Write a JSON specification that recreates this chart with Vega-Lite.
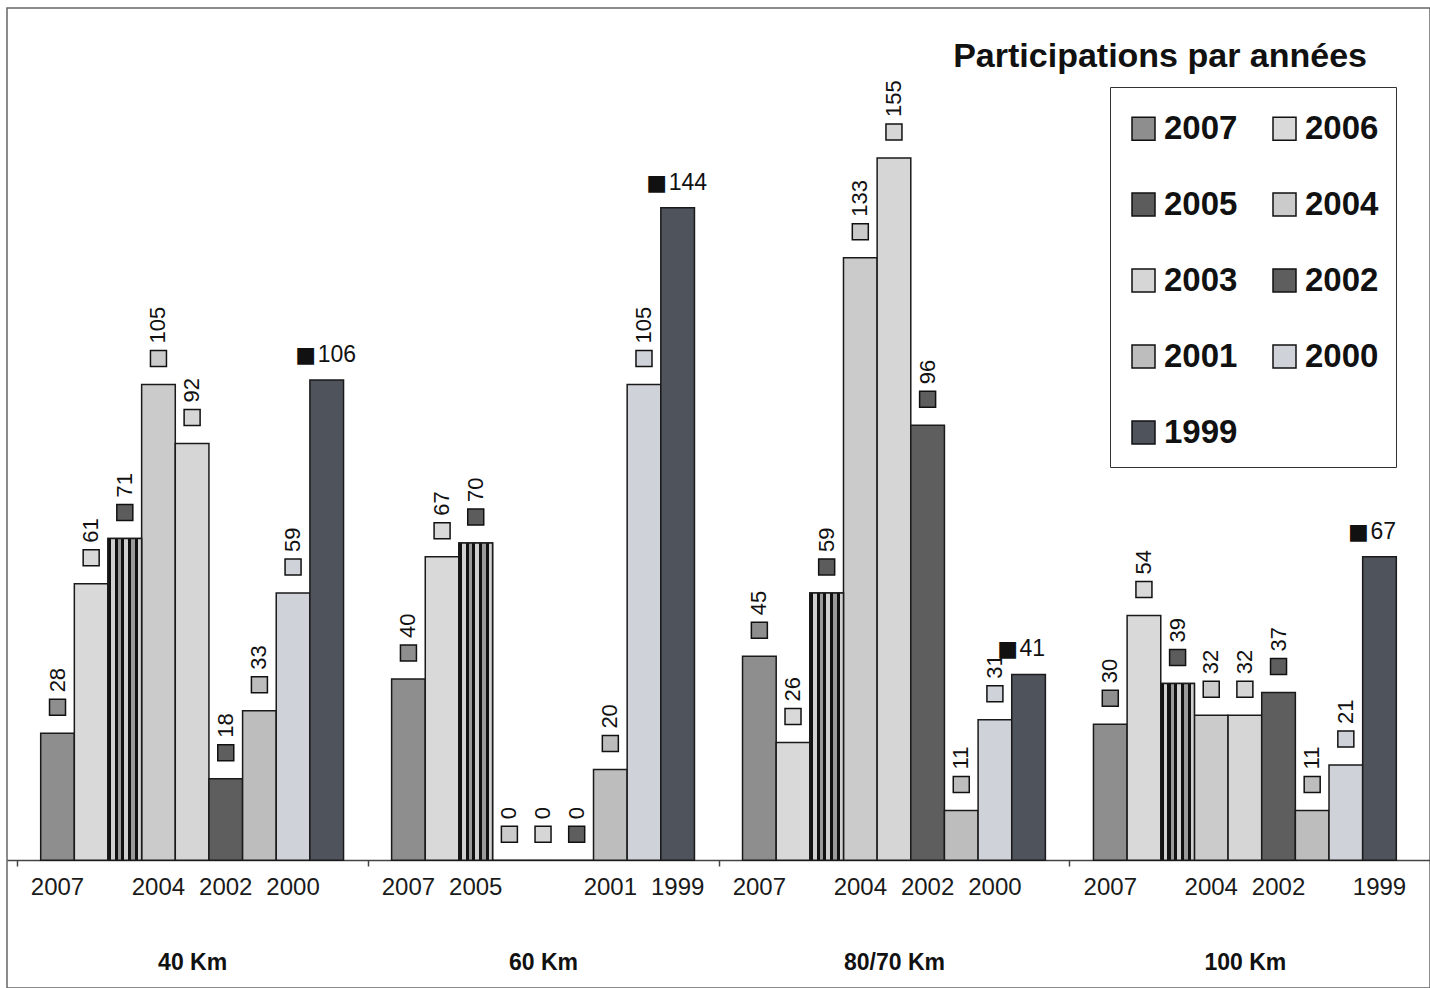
{
  "$schema": "https://vega.github.io/schema/vega-lite/v6.json",
  "autosize": "none",
  "width": 1423,
  "height": 980,
  "padding": {"left": 7, "top": 8, "right": 0, "bottom": 0},
  "background": "white",
  "title": {"text": "Participations par années", "anchor": "end", "frame": "group", "orient": "top", "offset": 0, "dx": -63, "dy": 93, "baseline": "alphabetic", "font": "Liberation Sans", "fontSize": 34, "fontWeight": "bold", "color": "#111"},
  "config": {"view": {"stroke": "#666", "strokeWidth": 1.5}, "font": "Liberation Sans"},
  "datasets": {
    "bars": [
      {"dist": "40 Km", "year": "2007", "value": 28},
      {"dist": "40 Km", "year": "2006", "value": 61},
      {"dist": "40 Km", "year": "2005", "value": 71},
      {"dist": "40 Km", "year": "2004", "value": 105},
      {"dist": "40 Km", "year": "2003", "value": 92},
      {"dist": "40 Km", "year": "2002", "value": 18},
      {"dist": "40 Km", "year": "2001", "value": 33},
      {"dist": "40 Km", "year": "2000", "value": 59},
      {"dist": "40 Km", "year": "1999", "value": 106},
      {"dist": "60 Km", "year": "2007", "value": 40},
      {"dist": "60 Km", "year": "2006", "value": 67},
      {"dist": "60 Km", "year": "2005", "value": 70},
      {"dist": "60 Km", "year": "2004", "value": 0},
      {"dist": "60 Km", "year": "2003", "value": 0},
      {"dist": "60 Km", "year": "2002", "value": 0},
      {"dist": "60 Km", "year": "2001", "value": 20},
      {"dist": "60 Km", "year": "2000", "value": 105},
      {"dist": "60 Km", "year": "1999", "value": 144},
      {"dist": "80/70 Km", "year": "2007", "value": 45},
      {"dist": "80/70 Km", "year": "2006", "value": 26},
      {"dist": "80/70 Km", "year": "2005", "value": 59},
      {"dist": "80/70 Km", "year": "2004", "value": 133},
      {"dist": "80/70 Km", "year": "2003", "value": 155},
      {"dist": "80/70 Km", "year": "2002", "value": 96},
      {"dist": "80/70 Km", "year": "2001", "value": 11},
      {"dist": "80/70 Km", "year": "2000", "value": 31},
      {"dist": "80/70 Km", "year": "1999", "value": 41},
      {"dist": "100 Km", "year": "2007", "value": 30},
      {"dist": "100 Km", "year": "2006", "value": 54},
      {"dist": "100 Km", "year": "2005", "value": 39},
      {"dist": "100 Km", "year": "2004", "value": 32},
      {"dist": "100 Km", "year": "2003", "value": 32},
      {"dist": "100 Km", "year": "2002", "value": 37},
      {"dist": "100 Km", "year": "2001", "value": 11},
      {"dist": "100 Km", "year": "2000", "value": 21},
      {"dist": "100 Km", "year": "1999", "value": 67}
    ],
    "yearLabels": [
      {"dist": "40 Km", "year": "2007"},
      {"dist": "40 Km", "year": "2004"},
      {"dist": "40 Km", "year": "2002"},
      {"dist": "40 Km", "year": "2000"},
      {"dist": "60 Km", "year": "2007"},
      {"dist": "60 Km", "year": "2005"},
      {"dist": "60 Km", "year": "2001"},
      {"dist": "60 Km", "year": "1999"},
      {"dist": "80/70 Km", "year": "2007"},
      {"dist": "80/70 Km", "year": "2004"},
      {"dist": "80/70 Km", "year": "2002"},
      {"dist": "80/70 Km", "year": "2000"},
      {"dist": "100 Km", "year": "2007"},
      {"dist": "100 Km", "year": "2004"},
      {"dist": "100 Km", "year": "2002"},
      {"dist": "100 Km", "year": "1999"}
    ]
  },
  "layer": [
    {
      "data": {"name": "bars"},
      "mark": {"type": "bar", "stroke": "#1a1a1a", "strokeWidth": 1.5},
      "encoding": {
        "x": {"field": "dist", "type": "nominal", "sort": ["40 Km", "60 Km", "80/70 Km", "100 Km"], "scale": {"domain": ["40 Km", "60 Km", "80/70 Km", "100 Km"], "paddingInner": 0.137, "paddingOuter": 0.096},
          "axis": {"orient": "bottom", "offset": -128, "title": null, "domainColor": "#444", "domainWidth": 1.5, "tickColor": "#444", "tickWidth": 1.5, "tickSize": 6, "bandPosition": 0, "tickOffset": -24, "labelOffset": 24, "labelPadding": 85, "labelFont": "Liberation Sans", "labelFontSize": 23, "labelFontWeight": "bold", "labelColor": "#111", "labelAngle": 0, "grid": false}},
        "xOffset": {"field": "year", "type": "nominal", "sort": ["2007", "2006", "2005", "2004", "2003", "2002", "2001", "2000", "1999"], "scale": {"domain": ["2007", "2006", "2005", "2004", "2003", "2002", "2001", "2000", "1999"], "paddingInner": 0, "paddingOuter": 0}},
        "y": {"field": "value", "type": "quantitative", "scale": {"domain": [-28.2, 188.1], "nice": false, "zero": false}, "axis": null},
        "y2": {"datum": 0},
        "color": {"field": "year", "type": "nominal", "sort": ["2007", "2006", "2005", "2004", "2003", "2002", "2001", "2000", "1999"],
          "scale": {"domain": ["2007", "2006", "2005", "2004", "2003", "2002", "2001", "2000", "1999"], "range": ["#8e8e8e", "#d9d9d9", "#5c5c5c", "#cbcbcb", "#d6d6d6", "#5e5e5e", "#bdbdbd", "#cfd2d8", "#4f535c"]},
          "legend": {"orient": "none", "legendX": 1103, "legendY": 79, "title": " ", "titleFontSize": 2, "titlePadding": 6, "columns": 2, "direction": "horizontal", "symbolType": "square", "symbolSize": 529, "symbolStrokeColor": "#111", "symbolStrokeWidth": 1.5, "labelFont": "Liberation Sans", "labelFontSize": 33, "labelFontWeight": "bold", "labelColor": "#111", "labelOffset": 4, "rowPadding": 42, "columnPadding": 30, "padding": 17, "strokeColor": "#333", "fillColor": "white"}}
      }
    },
    {
      "data": {"name": "bars"},
      "transform": [{"filter": "datum.year == '2005'"}],
      "mark": {"type": "bar", "stroke": "#1a1a1a", "strokeWidth": 1.5,
        "color": {"gradient": "linear", "x1": 0, "x2": 1, "y1": 0, "y2": 0, "stops": [
          {"offset": 0, "color": "#111"}, {"offset": 0.09, "color": "#111"}, {"offset": 0.09, "color": "#d0d0d0"}, {"offset": 0.2, "color": "#d0d0d0"},
          {"offset": 0.2, "color": "#111"}, {"offset": 0.29, "color": "#111"}, {"offset": 0.29, "color": "#9a9a9a"}, {"offset": 0.4, "color": "#9a9a9a"},
          {"offset": 0.4, "color": "#111"}, {"offset": 0.49, "color": "#111"}, {"offset": 0.49, "color": "#d0d0d0"}, {"offset": 0.6, "color": "#d0d0d0"},
          {"offset": 0.6, "color": "#111"}, {"offset": 0.69, "color": "#111"}, {"offset": 0.69, "color": "#9a9a9a"}, {"offset": 0.8, "color": "#9a9a9a"},
          {"offset": 0.8, "color": "#111"}, {"offset": 0.89, "color": "#111"}, {"offset": 0.89, "color": "#d0d0d0"}, {"offset": 1, "color": "#d0d0d0"}]}},
      "encoding": {
        "x": {"field": "dist", "type": "nominal", "sort": ["40 Km", "60 Km", "80/70 Km", "100 Km"]},
        "xOffset": {"field": "year", "type": "nominal", "sort": ["2007", "2006", "2005", "2004", "2003", "2002", "2001", "2000", "1999"]},
        "y": {"field": "value", "type": "quantitative"},
        "y2": {"datum": 0}
      }
    },
    {
      "data": {"name": "bars"},
      "transform": [{"filter": "datum.year != '1999'"}],
      "mark": {"type": "point", "shape": "square", "filled": true, "size": 256, "stroke": "#111", "strokeWidth": 1.5, "opacity": 1, "yOffset": -26},
      "encoding": {
        "x": {"field": "dist", "type": "nominal", "sort": ["40 Km", "60 Km", "80/70 Km", "100 Km"]},
        "xOffset": {"field": "year", "type": "nominal", "sort": ["2007", "2006", "2005", "2004", "2003", "2002", "2001", "2000", "1999"]},
        "y": {"field": "value", "type": "quantitative"},
        "color": {"field": "year", "type": "nominal", "sort": ["2007", "2006", "2005", "2004", "2003", "2002", "2001", "2000", "1999"]}
      }
    },
    {
      "data": {"name": "bars"},
      "transform": [{"filter": "datum.year != '1999'"}],
      "mark": {"type": "text", "angle": 270, "align": "left", "baseline": "middle", "dx": 41, "font": "Liberation Sans", "fontSize": 22, "color": "#111"},
      "encoding": {
        "x": {"field": "dist", "type": "nominal", "sort": ["40 Km", "60 Km", "80/70 Km", "100 Km"]},
        "xOffset": {"field": "year", "type": "nominal", "sort": ["2007", "2006", "2005", "2004", "2003", "2002", "2001", "2000", "1999"]},
        "y": {"field": "value", "type": "quantitative"},
        "text": {"field": "value", "type": "quantitative"}
      }
    },
    {
      "data": {"name": "bars"},
      "transform": [{"filter": "datum.year == '1999'"}],
      "mark": {"type": "text", "text": "■", "align": "center", "baseline": "middle", "dx": -21, "dy": -25, "font": "DejaVu Sans", "fontSize": 22, "color": "#111"},
      "encoding": {
        "x": {"field": "dist", "type": "nominal", "sort": ["40 Km", "60 Km", "80/70 Km", "100 Km"]},
        "xOffset": {"field": "year", "type": "nominal", "sort": ["2007", "2006", "2005", "2004", "2003", "2002", "2001", "2000", "1999"]},
        "y": {"field": "value", "type": "quantitative"}
      }
    },
    {
      "data": {"name": "bars"},
      "transform": [{"filter": "datum.year == '1999'"}],
      "mark": {"type": "text", "align": "left", "baseline": "middle", "dx": -9, "dy": -25, "font": "Liberation Sans", "fontSize": 23, "color": "#111"},
      "encoding": {
        "x": {"field": "dist", "type": "nominal", "sort": ["40 Km", "60 Km", "80/70 Km", "100 Km"]},
        "xOffset": {"field": "year", "type": "nominal", "sort": ["2007", "2006", "2005", "2004", "2003", "2002", "2001", "2000", "1999"]},
        "y": {"field": "value", "type": "quantitative"},
        "text": {"field": "value", "type": "quantitative"}
      }
    },
    {
      "data": {"name": "yearLabels"},
      "mark": {"type": "text", "align": "center", "baseline": "middle", "dy": 28, "font": "Liberation Sans", "fontSize": 24, "color": "#1a1a1a"},
      "encoding": {
        "x": {"field": "dist", "type": "nominal", "sort": ["40 Km", "60 Km", "80/70 Km", "100 Km"]},
        "xOffset": {"field": "year", "type": "nominal", "sort": ["2007", "2006", "2005", "2004", "2003", "2002", "2001", "2000", "1999"]},
        "y": {"datum": 0, "type": "quantitative"},
        "text": {"field": "year", "type": "nominal"}
      }
    }
  ]
}
